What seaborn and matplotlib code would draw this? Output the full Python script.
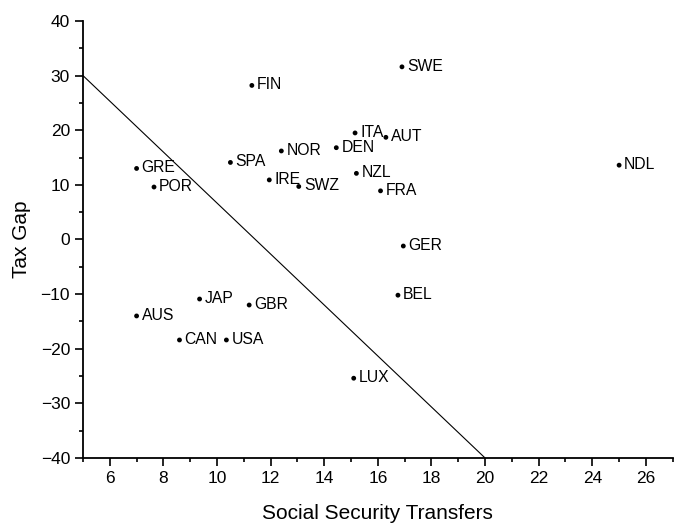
import matplotlib
matplotlib.use("Agg")
import matplotlib.pyplot as plt
import seaborn as sns
import pandas as pd
from matplotlib.ticker import MultipleLocator

countries = ["FIN", "GRE", "POR", "SPA", "NOR", "IRE", "SWZ", "DEN", "ITA", "AUT",
             "SWE", "NZL", "FRA", "NDL", "GER", "BEL", "LUX", "JAP", "GBR", "AUS",
             "CAN", "USA"]
transfers = [11.3, 7.0, 7.65, 10.5, 12.4, 11.95, 13.05, 14.45, 15.15, 16.3,
             16.9, 15.2, 16.1, 25.0, 16.95, 16.75, 15.1, 9.35, 11.2, 7.0,
             8.6, 10.35]
tax_gap = [28.2, 13.0, 9.6, 14.1, 16.2, 10.9, 9.7, 16.8, 19.5, 18.7,
           31.6, 12.1, 8.9, 13.6, -1.2, -10.2, -25.4, -10.9, -12.0, -14.0,
           -18.4, -18.4]
line_x = [5, 20]
line_y = [30, -40]

df = pd.DataFrame({"x": transfers, "y": tax_gap, "label": countries})
line_df = pd.DataFrame({"x": line_x, "y": line_y})

sns.set_style("ticks")
plt.rcParams["font.family"] = ["Liberation Sans", "DejaVu Sans"]
for k in ["text.color", "axes.labelcolor", "xtick.color", "ytick.color", "axes.edgecolor"]:
    plt.rcParams[k] = "black"

fig = plt.figure(figsize=(6.74, 5.24), dpi=100)
ax = fig.add_axes([0.1231, 0.126, 0.875, 0.834])

sns.lineplot(data=line_df, x="x", y="y", color="black", linewidth=0.8, ax=ax)
sns.scatterplot(data=df, x="x", y="y", color="black", s=12, edgecolor="none", ax=ax)
for _, r in df.iterrows():
    ax.annotate(r["label"], (r["x"], r["y"]), xytext=(3.6, 0.5), textcoords="offset points",
                va="center", ha="left", fontsize=11.3, color="black")

ax.set_xlim(5, 27)
ax.set_ylim(-40, 40)
ax.xaxis.set_major_locator(MultipleLocator(2))
ax.xaxis.set_minor_locator(MultipleLocator(1))
ax.yaxis.set_major_locator(MultipleLocator(10))
ax.yaxis.set_minor_locator(MultipleLocator(5))
ax.set_xticks(range(6, 27, 2))
ax.tick_params(axis="both", which="major", length=5.8, width=1.2, labelsize=12.5,
               direction="out", pad=3.5)
ax.tick_params(axis="both", which="minor", length=3, width=1.2, direction="out")
ax.set_xlabel("Social Security Transfers", fontsize=15, labelpad=13)
ax.set_ylabel("Tax Gap", fontsize=15, labelpad=7)
for s in ["top", "right"]:
    ax.spines[s].set_visible(False)
for s in ["left", "bottom"]:
    ax.spines[s].set_linewidth(1.3)

fig.savefig("out.png", dpi=100)
